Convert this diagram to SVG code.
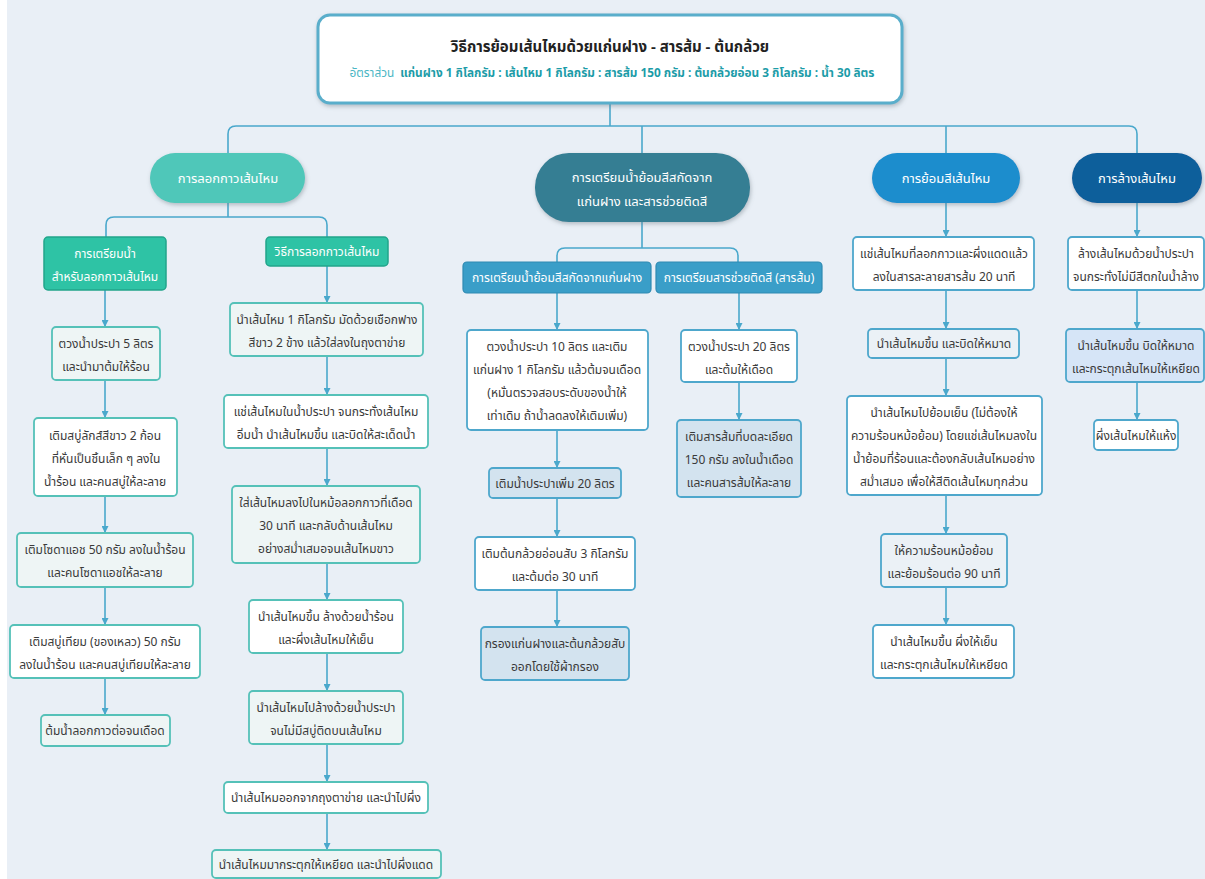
<svg xmlns="http://www.w3.org/2000/svg" width="1205" height="879" viewBox="0 0 1205 879">
<defs>
<style>
text{font-family:"Noto Sans Thai","Noto Sans","DejaVu Sans",sans-serif;font-size:12px;fill:#3a3a3a;text-anchor:middle}
.hw{fill:#fff;font-size:13px}
.sw{fill:#fff;font-size:12px}
.c{stroke:#4aa8cc;stroke-width:1.6;fill:none}
.ca{stroke:#4aa8cc;stroke-width:1.6;fill:none;marker-end:url(#ah)}
.aw{fill:#fff;stroke:#55c1b8;stroke-width:1.8}
.al{fill:#eef5f5;stroke:#55c1b8;stroke-width:1.8}
.bw{fill:#fff;stroke:#4ea7cc;stroke-width:1.8}
.bl{fill:#d3e3ef;stroke:#4ea7cc;stroke-width:1.8}
.cl{fill:#ebf1f6;stroke:#4ea7cc;stroke-width:1.8}
.dl{fill:#d6e5f7;stroke:#4ea7cc;stroke-width:1.8}
.g2{fill:#2ec3a5;stroke:#22a58b;stroke-width:1.5}
.b2{fill:#3a9ec8;stroke:#2f8ab2;stroke-width:1.2}
</style>
<marker id="ah" viewBox="0 0 10 10" refX="10" refY="5" markerWidth="7" markerHeight="7" markerUnits="userSpaceOnUse" orient="auto">
<path d="M0,0 L10,5 L0,10 z" fill="#4aa8cc"/>
</marker>
<filter id="sh" x="-10%" y="-20%" width="120%" height="150%">
<feDropShadow dx="1" dy="2" stdDeviation="2" flood-color="#6d7a85" flood-opacity="0.45"/>
</filter>
</defs>
<rect x="0" y="0" width="1205" height="879" fill="#ffffff"/>
<rect x="7" y="0" width="1198" height="879" fill="#e9eff6"/>

<g id="connectors">
<path class="c" d="M610 103 V126"/>
<path class="c" d="M228 153 V134 Q228 126 236 126 H1129 Q1137 126 1137 134 V153"/>
<path class="c" d="M642 126 V153"/>
<path class="c" d="M946 126 V153"/>
<path class="c" d="M228 203 V217"/>
<path class="c" d="M106 237 V225 Q106 217 114 217 H319 Q327 217 327 225 V237"/>
<path class="ca" d="M105 290 V327"/>
<path class="ca" d="M105 380 V418"/>
<path class="ca" d="M105 496 V533"/>
<path class="ca" d="M105 587 V625"/>
<path class="ca" d="M105 678 V715"/>
<path class="ca" d="M327 266 V303"/>
<path class="ca" d="M327 356 V395"/>
<path class="ca" d="M327 448 V486"/>
<path class="ca" d="M327 563 V600"/>
<path class="ca" d="M327 653 V691"/>
<path class="ca" d="M327 744 V782"/>
<path class="ca" d="M327 813 V850"/>
<path class="c" d="M642 222 V248"/>
<path class="c" d="M557 262 V256 Q557 248 565 248 H730 Q738 248 738 256 V262"/>
<path class="ca" d="M557 293 V330"/>
<path class="ca" d="M557 430 V468"/>
<path class="ca" d="M557 498 V537"/>
<path class="ca" d="M557 590 V627"/>
<path class="ca" d="M739 293 V330"/>
<path class="ca" d="M739 382 V420"/>
<path class="ca" d="M946 203 V237"/>
<path class="ca" d="M946 290 V329"/>
<path class="ca" d="M946 358 V396"/>
<path class="ca" d="M946 495 V534"/>
<path class="ca" d="M946 587 V625"/>
<path class="ca" d="M1137 203 V237"/>
<path class="ca" d="M1137 290 V329"/>
<path class="ca" d="M1137 382 V420"/>
</g>

<g id="title">
<rect x="318" y="15" width="584" height="88" rx="12" fill="#fff" stroke="#5aaecb" stroke-width="3" filter="url(#sh)"/>
<text x="610" y="52" style="font-size:15px;font-weight:bold;fill:#222">วิธีการย้อมเส้นไหมด้วยแก่นฝาง - สารส้ม - ต้นกล้วย</text>
<text x="612" y="77" style="font-size:11.8px"><tspan style="fill:#4ab6c4">อัตราส่วน</tspan><tspan dx="6" style="fill:#1c9ca8;font-weight:bold">แก่นฝาง 1 กิโลกรัม : เส้นไหม 1 กิโลกรัม : สารส้ม 150 กรัม : ต้นกล้วยอ่อน 3 กิโลกรัม : น้ำ 30 ลิตร</tspan></text>
</g>

<g id="nA">
<rect x="150" y="153" width="155" height="50" rx="25" fill="#4fc7b9" filter="url(#sh)"/>
<text class="hw" x="228" y="183">การลอกกาวเส้นไหม</text>
</g>
<g id="nB">
<rect x="535" y="153" width="215" height="69" rx="34" fill="#347e93" filter="url(#sh)"/>
<text class="hw" x="642" y="182">การเตรียมน้ำย้อมสีสกัดจาก</text>
<text class="hw" x="642" y="206">แก่นฝาง และสารช่วยติดสี</text>
</g>
<g id="nC">
<rect x="872" y="153" width="148" height="50" rx="25" fill="#1a8dcd" filter="url(#sh)"/>
<text class="hw" x="946" y="183">การย้อมสีเส้นไหม</text>
</g>
<g id="nD">
<rect x="1072" y="153" width="130" height="50" rx="25" fill="#0d5e9b" filter="url(#sh)"/>
<text class="hw" x="1137" y="183">การล้างเส้นไหม</text>
</g>

<g id="nA1">
<rect class="g2" x="44" y="237" width="122" height="53" rx="4"/>
<text class="sw" x="105" y="258">การเตรียมน้ำ</text>
<text class="sw" x="105" y="281">สำหรับลอกกาวเส้นไหม</text>
</g>
<g id="nA2">
<rect class="g2" x="266" y="237" width="122" height="29" rx="4"/>
<text class="sw" x="327" y="256">วิธีการลอกกาวเส้นไหม</text>
</g>

<g id="a1s1">
<rect class="al" x="52" y="327" width="108" height="53" rx="4"/>
<text x="106" y="348">ตวงน้ำประปา 5 ลิตร</text>
<text x="106" y="371">และนำมาต้มให้ร้อน</text>
</g>
<g id="a1s2">
<rect class="aw" x="34" y="418" width="143" height="78" rx="4"/>
<text x="105" y="440">เติมสบู่ลักส์สีขาว 2 ก้อน</text>
<text x="106" y="463">ที่หั่นเป็นชิ้นเล็ก ๆ ลงใน</text>
<text x="105" y="486">น้ำร้อน และคนสบู่ให้ละลาย</text>
</g>
<g id="a1s3">
<rect class="al" x="17" y="533" width="176" height="54" rx="4"/>
<text x="105" y="554">เติมโซดาแอช 50 กรัม ลงในน้ำร้อน</text>
<text x="105" y="577">และคนโซดาแอชให้ละลาย</text>
</g>
<g id="a1s4">
<rect class="aw" x="10" y="625" width="190" height="53" rx="4"/>
<text x="105" y="646">เติมสบู่เทียม (ของเหลว) 50 กรัม</text>
<text x="105" y="669">ลงในน้ำร้อน และคนสบู่เทียมให้ละลาย</text>
</g>
<g id="a1s5">
<rect class="al" x="41" y="715" width="129" height="31" rx="4"/>
<text x="105" y="735">ต้มน้ำลอกกาวต่อจนเดือด</text>
</g>

<g id="a2s1">
<rect class="al" x="230" y="303" width="193" height="53" rx="4"/>
<text x="327" y="324">นำเส้นไหม 1 กิโลกรัม มัดด้วยเชือกฟาง</text>
<text x="327" y="347">สีขาว 2 ข้าง แล้วใส่ลงในถุงตาข่าย</text>
</g>
<g id="a2s2">
<rect class="aw" x="224" y="395" width="204" height="53" rx="4"/>
<text x="326" y="416">แช่เส้นไหมในน้ำประปา จนกระทั่งเส้นไหม</text>
<text x="326" y="439">อิ่มน้ำ นำเส้นไหมขึ้น และบิดให้สะเด็ดน้ำ</text>
</g>
<g id="a2s3">
<rect class="al" x="232" y="486" width="188" height="77" rx="4"/>
<text x="326" y="507">ใส่เส้นไหมลงไปในหม้อลอกกาวที่เดือด</text>
<text x="326" y="530">30 นาที และกลับด้านเส้นไหม</text>
<text x="326" y="553">อย่างสม่ำเสมอจนเส้นไหมขาว</text>
</g>
<g id="a2s4">
<rect class="aw" x="249" y="600" width="154" height="53" rx="4"/>
<text x="326" y="621">นำเส้นไหมขึ้น ล้างด้วยน้ำร้อน</text>
<text x="326" y="644">และผึ่งเส้นไหมให้เย็น</text>
</g>
<g id="a2s5">
<rect class="al" x="249" y="691" width="154" height="53" rx="4"/>
<text x="326" y="712">นำเส้นไหมไปล้างด้วยน้ำประปา</text>
<text x="326" y="735">จนไม่มีสบู่ติดบนเส้นไหม</text>
</g>
<g id="a2s6">
<rect class="aw" x="224" y="782" width="204" height="31" rx="4"/>
<text x="326" y="802">นำเส้นไหมออกจากถุงตาข่าย และนำไปผึ่ง</text>
</g>
<g id="a2s7">
<rect class="al" x="212" y="850" width="229" height="28" rx="4"/>
<text x="326" y="869">นำเส้นไหมมากระตุกให้เหยียด และนำไปผึ่งแดด</text>
</g>

<g id="nB1">
<rect class="b2" x="463" y="262" width="188" height="31" rx="4"/>
<text class="sw" x="557" y="282">การเตรียมน้ำย้อมสีสกัดจากแก่นฝาง</text>
</g>
<g id="nB2">
<rect class="b2" x="656" y="262" width="166" height="31" rx="4"/>
<text class="sw" x="739" y="282">การเตรียมสารช่วยติดสี (สารส้ม)</text>
</g>

<g id="b1s1">
<rect class="bw" x="467" y="330" width="181" height="100" rx="4"/>
<text x="557" y="351">ตวงน้ำประปา 10 ลิตร และเติม</text>
<text x="557" y="374">แก่นฝาง 1 กิโลกรัม แล้วต้มจนเดือด</text>
<text x="557" y="397">(หมั่นตรวจสอบระดับของน้ำให้</text>
<text x="557" y="420">เท่าเดิม ถ้าน้ำลดลงให้เติมเพิ่ม)</text>
</g>
<g id="b1s2">
<rect class="bl" x="489" y="468" width="132" height="30" rx="4"/>
<text x="555" y="488">เติมน้ำประปาเพิ่ม 20 ลิตร</text>
</g>
<g id="b1s3">
<rect class="bw" x="475" y="537" width="160" height="53" rx="4"/>
<text x="555" y="558">เติมต้นกล้วยอ่อนสับ 3 กิโลกรัม</text>
<text x="555" y="581">และต้มต่อ 30 นาที</text>
</g>
<g id="b1s4">
<rect class="bl" x="481" y="627" width="148" height="53" rx="4"/>
<text x="555" y="648">กรองแก่นฝางและต้นกล้วยสับ</text>
<text x="555" y="671">ออกโดยใช้ผ้ากรอง</text>
</g>
<g id="b2s1">
<rect class="bw" x="681" y="330" width="116" height="52" rx="4"/>
<text x="739" y="351">ตวงน้ำประปา 20 ลิตร</text>
<text x="739" y="374">และต้มให้เดือด</text>
</g>
<g id="b2s2">
<rect class="bl" x="677" y="420" width="124" height="77" rx="4"/>
<text x="739" y="441">เติมสารส้มที่บดละเอียด</text>
<text x="739" y="464">150 กรัม ลงในน้ำเดือด</text>
<text x="739" y="487">และคนสารส้มให้ละลาย</text>
</g>

<g id="c1">
<rect class="bw" x="853" y="237" width="181" height="53" rx="4"/>
<text x="944" y="258">แช่เส้นไหมที่ลอกกาวและผึ่งแดดแล้ว</text>
<text x="944" y="281">ลงในสารละลายสารส้ม 20 นาที</text>
</g>
<g id="c2">
<rect class="cl" x="868" y="329" width="151" height="29" rx="4"/>
<text x="944" y="348">นำเส้นไหมขึ้น และบิดให้หมาด</text>
</g>
<g id="c3">
<rect class="bw" x="847" y="396" width="195" height="99" rx="4"/>
<text x="944" y="417">นำเส้นไหมไปย้อมเย็น (ไม่ต้องให้</text>
<text x="944" y="440">ความร้อนหม้อย้อม) โดยแช่เส้นไหมลงใน</text>
<text x="944" y="463">น้ำย้อมที่ร้อนและต้องกลับเส้นไหมอย่าง</text>
<text x="944" y="486">สม่ำเสมอ เพื่อให้สีติดเส้นไหมทุกส่วน</text>
</g>
<g id="c4">
<rect class="cl" x="881" y="534" width="126" height="53" rx="4"/>
<text x="944" y="555">ให้ความร้อนหม้อย้อม</text>
<text x="944" y="578">และย้อมร้อนต่อ 90 นาที</text>
</g>
<g id="c5">
<rect class="bw" x="873" y="625" width="141" height="53" rx="4"/>
<text x="944" y="646">นำเส้นไหมขึ้น ผึ่งให้เย็น</text>
<text x="944" y="669">และกระตุกเส้นไหมให้เหยียด</text>
</g>

<g id="d1">
<rect class="bw" x="1068" y="237" width="136" height="53" rx="4"/>
<text x="1136" y="258">ล้างเส้นไหมด้วยน้ำประปา</text>
<text x="1136" y="281">จนกระทั่งไม่มีสีตกในน้ำล้าง</text>
</g>
<g id="d2">
<rect class="dl" x="1066" y="329" width="138" height="53" rx="4"/>
<text x="1136" y="350">นำเส้นไหมขึ้น บิดให้หมาด</text>
<text x="1136" y="373">และกระตุกเส้นไหมให้เหยียด</text>
</g>
<g id="d3">
<rect class="bw" x="1094" y="420" width="84" height="30" rx="4"/>
<text x="1136" y="440">ผึ่งเส้นไหมให้แห้ง</text>
</g>
</svg>
